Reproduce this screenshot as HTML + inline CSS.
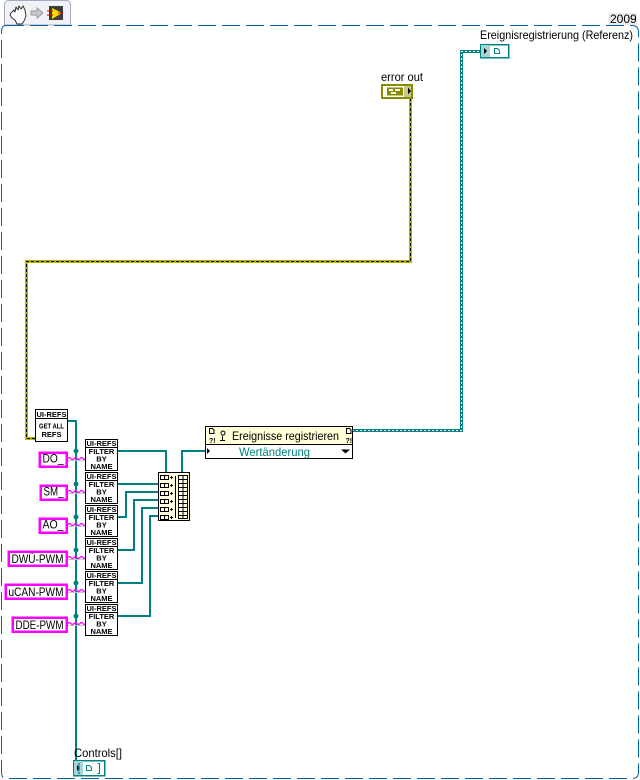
<!DOCTYPE html>
<html><head><meta charset="utf-8"><style>
html,body{margin:0;padding:0;background:#fff;width:640px;height:780px;overflow:hidden}
svg{display:block}
text{font-family:"Liberation Sans","DejaVu Sans",sans-serif;fill:#000}
.t{font-size:12px}
.s{font-size:12px}
.c{font-size:11.5px}
.b{font-family:"Liberation Sans",sans-serif;font-size:7.5px;font-weight:bold;text-anchor:middle}
.w{fill:none;stroke:#008080;stroke-width:2;shape-rendering:crispEdges}
.n{fill:#fff;stroke:#000;stroke-width:1;shape-rendering:crispEdges}
.p{fill:#fff;stroke:#ff00ff;stroke-width:2.500;shape-rendering:crispEdges}
.g{fill:none;stroke:#c8c8c8;stroke-width:1;shape-rendering:crispEdges}
</style></head><body>
<svg width="640" height="780" viewBox="0 0 640 780" xmlns="http://www.w3.org/2000/svg">
<!-- tab -->
<path d="M4.500 25V5Q4.500 .5 9 .5H66Q70.500 .5 70.500 5V25Z" fill="#f1f2f7" stroke="#a4aabd"/>
<path d="M11 13l3-3 1 2 1-5 2 3 1-4 2 3 2-3 2 4 1 6-2 5-2 3h-5l-2-4-3-2-2-3z" fill="#fff" stroke="#222" stroke-width=".9" stroke-linejoin="round"/>
<path d="M31 11h6V8l6 5-6 5v-3h-6z" fill="#c8c8c8" stroke="#999"/>
<rect x="49" y="6" width="14" height="14" fill="#3c3c3c"/>
<path d="M52 8l10 5-10 6z" fill="#f5dc00"/>
<path d="M47 11h6M47 15h6M58 13h5" stroke="#d00" stroke-width="1"/>
<!-- frame -->
<rect x="608" y="13" width="29" height="12" fill="#ececec"/>
<text x="610" y="23" class="t">2009</text>
<path d="M6 25.500H632Q638.500 25.500 638.500 32V772Q638.500 778.500 632 778.500H6Q1.500 778.500 1.500 772V32Q1.500 25.500 6 25.500Z" fill="none" stroke="#0060a8" stroke-width="1" stroke-dasharray="18 6"/>
<!-- error wire -->
<g shape-rendering="crispEdges" fill="none">
<path d="M410.500 98V261.500H26.500V438.500H35" stroke="#b4b400" stroke-width="3"/>
<path d="M410.500 98V261.500H26.500V438.500H35" stroke="#000" stroke-width="1" stroke-dasharray="3 2"/>
</g>
<!-- cluster wire -->
<g shape-rendering="crispEdges" fill="none">
<path d="M352 430.500H461.500V51.500H480" stroke="#008080" stroke-width="3"/>
<path d="M352 430.500H461.500V51.500H480" stroke="#fff" stroke-width="1" stroke-dasharray="2 2"/>
</g>
<!-- bus -->
<path class="w" d="M67 421H76V760"/>
<g fill="#008080">
<circle cx="76" cy="451" r="2.500"/><circle cx="76" cy="484" r="2.500"/><circle cx="76" cy="517" r="2.500"/><circle cx="76" cy="550" r="2.500"/><circle cx="76" cy="583" r="2.500"/><circle cx="76" cy="616" r="2.500"/>
</g>
<!-- filter-to-build wires -->
<path class="w" d="M117 451H166V472"/>
<path class="w" d="M117 484H158"/>
<path class="w" d="M117 517H126V492H158"/>
<path class="w" d="M117 550H134V500H158"/>
<path class="w" d="M117 583H142V508H158"/>
<path class="w" d="M117 616H150V516H158"/>
<path class="w" d="M182 472V451H205"/>
<!-- string wires -->
<path class="g" d="M68 460.500h17M68 493.500h17M68 526.500h17M68 559.500h17M68 592.500h17M68 625.500h17"/>
<g fill="none" stroke-width="1.300" stroke="#ff00ff">
<path d="M68 458.500q2-2 3 0t3 0 3 0 3 0 3 0 2 0"/>
<path d="M68 491.500q2-2 3 0t3 0 3 0 3 0 3 0 2 0"/>
<path d="M68 524.500q2-2 3 0t3 0 3 0 3 0 3 0 2 0"/>
<path d="M68 557.500q2-2 3 0t3 0 3 0 3 0 3 0 2 0"/>
<path d="M68 590.500q2-2 3 0t3 0 3 0 3 0 3 0 2 0"/>
<path d="M68 623.500q2-2 3 0t3 0 3 0 3 0 3 0 2 0"/>
</g>
<!-- GET ALL REFS -->
<rect class="n" x="35.500" y="409.500" width="32" height="32"/>
<path d="M35 418.500H68" stroke="#000" shape-rendering="crispEdges"/>
<text class="b" x="51.500" y="417">UI-REFS</text>
<text class="b" x="51.500" y="428.500" textLength="25" lengthAdjust="spacingAndGlyphs">GET ALL</text>
<text class="b" x="51.500" y="437">REFS</text>
<!-- filters -->
<g><rect class="n" x="85.500" y="439.500" width="32" height="31"/><path d="M85 447.500H118" stroke="#000" shape-rendering="crispEdges"/><text class="b" x="101.500" y="446">UI-REFS</text><text class="b" x="101.500" y="454">FILTER</text><text class="b" x="101.500" y="461.500">BY</text><text class="b" x="101.500" y="469">NAME</text></g>
<g transform="translate(0 33)"><rect class="n" x="85.500" y="439.500" width="32" height="31"/><path d="M85 447.500H118" stroke="#000" shape-rendering="crispEdges"/><text class="b" x="101.500" y="446">UI-REFS</text><text class="b" x="101.500" y="454">FILTER</text><text class="b" x="101.500" y="461.500">BY</text><text class="b" x="101.500" y="469">NAME</text></g>
<g transform="translate(0 66)"><rect class="n" x="85.500" y="439.500" width="32" height="31"/><path d="M85 447.500H118" stroke="#000" shape-rendering="crispEdges"/><text class="b" x="101.500" y="446">UI-REFS</text><text class="b" x="101.500" y="454">FILTER</text><text class="b" x="101.500" y="461.500">BY</text><text class="b" x="101.500" y="469">NAME</text></g>
<g transform="translate(0 99)"><rect class="n" x="85.500" y="439.500" width="32" height="31"/><path d="M85 447.500H118" stroke="#000" shape-rendering="crispEdges"/><text class="b" x="101.500" y="446">UI-REFS</text><text class="b" x="101.500" y="454">FILTER</text><text class="b" x="101.500" y="461.500">BY</text><text class="b" x="101.500" y="469">NAME</text></g>
<g transform="translate(0 132)"><rect class="n" x="85.500" y="439.500" width="32" height="31"/><path d="M85 447.500H118" stroke="#000" shape-rendering="crispEdges"/><text class="b" x="101.500" y="446">UI-REFS</text><text class="b" x="101.500" y="454">FILTER</text><text class="b" x="101.500" y="461.500">BY</text><text class="b" x="101.500" y="469">NAME</text></g>
<g transform="translate(0 165)"><rect class="n" x="85.500" y="439.500" width="32" height="31"/><path d="M85 447.500H118" stroke="#000" shape-rendering="crispEdges"/><text class="b" x="101.500" y="446">UI-REFS</text><text class="b" x="101.500" y="454">FILTER</text><text class="b" x="101.500" y="461.500">BY</text><text class="b" x="101.500" y="469">NAME</text></g>
<!-- string constants -->
<rect class="p" x="39.500" y="452.500" width="27" height="14"/><text class="c" x="42.500" y="462.500" textLength="21" lengthAdjust="spacingAndGlyphs">DO_</text>
<rect class="p" x="40.500" y="485.500" width="26" height="14"/><text class="c" x="43.500" y="495.500" textLength="20" lengthAdjust="spacingAndGlyphs">SM_</text>
<rect class="p" x="39.500" y="518.500" width="27" height="14"/><text class="c" x="42.500" y="528.500" textLength="21" lengthAdjust="spacingAndGlyphs">AO_</text>
<rect class="p" x="8.500" y="551.500" width="58" height="14"/><text class="c" x="11.500" y="563" textLength="52" lengthAdjust="spacingAndGlyphs">DWÜ-PWM</text>
<rect class="p" x="5.500" y="584.500" width="61" height="14"/><text class="c" x="8.500" y="596" textLength="55" lengthAdjust="spacingAndGlyphs">uCAN-PWM</text>
<rect class="p" x="12.500" y="617.500" width="54" height="14"/><text class="c" x="15.500" y="629" textLength="48" lengthAdjust="spacingAndGlyphs">DDE-PWM</text>
<!-- build array -->
<rect x="158.500" y="472.500" width="31" height="48" fill="#ffffe0" stroke="#000" shape-rendering="crispEdges"/>
<g fill="none" stroke="#000" stroke-width="1" shape-rendering="crispEdges">
<path d="M160.500 475.500h8v4h-8zM164.500 475.500v4M160.500 483.500h8v4h-8zM164.500 483.500v4M160.500 491.500h8v4h-8zM164.500 491.500v4M160.500 499.500h8v4h-8zM164.500 499.500v4M160.500 507.500h8v4h-8zM164.500 507.500v4M160.500 515.500h8v4h-8zM164.500 515.500v4"/>
<path d="M170 477.500h3M171.500 476v3M170 485.500h3M171.500 484v3M170 493.500h3M171.500 492v3M170 501.500h3M171.500 500v3M170 509.500h3M171.500 508v3M170 517.500h3M171.500 516v3"/>
<path d="M175.500 476v42M178.500 475.500h9v43h-9zM183 475.500v43M178.500 479.500h9M178.500 483.500h9M178.500 487.500h9M178.500 491.500h9M178.500 495.500h9M178.500 499.500h9M178.500 503.500h9M178.500 507.500h9M178.500 511.500h9M178.500 515.500h9"/>
</g>
<!-- event node -->
<rect x="205.500" y="426.500" width="147" height="32" fill="#fff" stroke="#000" shape-rendering="crispEdges"/>
<rect x="206" y="427" width="146" height="17" fill="#ffffd8"/>
<path d="M205 444.500H353" stroke="#000" shape-rendering="crispEdges"/>
<path d="M209.500 428.500h3l1.500 1.500v3.500h-4.500zM346.500 428.500h3l1.500 1.500v3.500h-4.500z" fill="none" stroke="#000"/>
<text x="209" y="443" font-size="7" font-weight="bold">?!</text>
<text x="345.500" y="443" font-size="7" font-weight="bold">?!</text>
<path d="M221 433a2 2 0 1 1 0 .1M222.500 436v4M220 440.500h5" fill="none" stroke="#000"/>
<text x="232" y="440" class="s" textLength="107" lengthAdjust="spacingAndGlyphs">Ereignisse registrieren</text>
<path d="M207 448l3 3-3 3z" fill="#000"/>
<text x="239" y="456" class="s" style="fill:#008080" textLength="71" lengthAdjust="spacingAndGlyphs">Wertänderung</text>
<path d="M341 449.500h9l-4.500 4z" fill="#000"/>
<!-- error out -->
<text x="381" y="81" class="t" textLength="42" lengthAdjust="spacingAndGlyphs">error out</text>
<rect x="382" y="85" width="30" height="13" fill="#fffff0" stroke="#8a8a00" stroke-width="2" shape-rendering="crispEdges"/>
<rect x="404" y="86" width="7" height="11" fill="#c8c88c"/>
<path d="M408 87.500l3 3.500-3 3.500z" fill="#000"/>
<rect x="387" y="87.500" width="16" height="8" fill="#8a8a00"/>
<path d="M389 89h4v2h-4zM395 89h5v2h-5zM391 92h5v2h-5z" fill="#fff"/>
<!-- event reg terminal -->
<text x="480" y="39" class="t" textLength="153" lengthAdjust="spacingAndGlyphs">Ereignisregistrierung (Referenz)</text>
<rect x="480.500" y="44.500" width="28" height="13" fill="#fff" stroke="#008080" stroke-width="1.500" shape-rendering="crispEdges"/>
<rect x="481" y="45" width="9" height="12" fill="#a8d4d4"/>
<path d="M484 48l3 3-3 3z" fill="#000"/>
<path d="M494.500 48.500h3l2 2v3h-5z" fill="none" stroke="#008080"/>
<!-- controls -->
<text x="74" y="757" class="t" textLength="48" lengthAdjust="spacingAndGlyphs">Controls[]</text>
<rect x="73.500" y="760.500" width="31" height="15" fill="#fff" stroke="#008080" stroke-width="1.500" shape-rendering="crispEdges"/>
<rect x="74" y="761" width="9" height="14" fill="#a8d4d4"/>
<path d="M77 765l3 3-3 3z" fill="#000"/>
<path d="M86.500 765.500h3l2 2v3h-5z" fill="none" stroke="#008080"/>
<path d="M80 763.500h-1v10h1M97.500 763.500h2v10h-2" fill="none" stroke="#008080"/>
</svg>
</body></html>
